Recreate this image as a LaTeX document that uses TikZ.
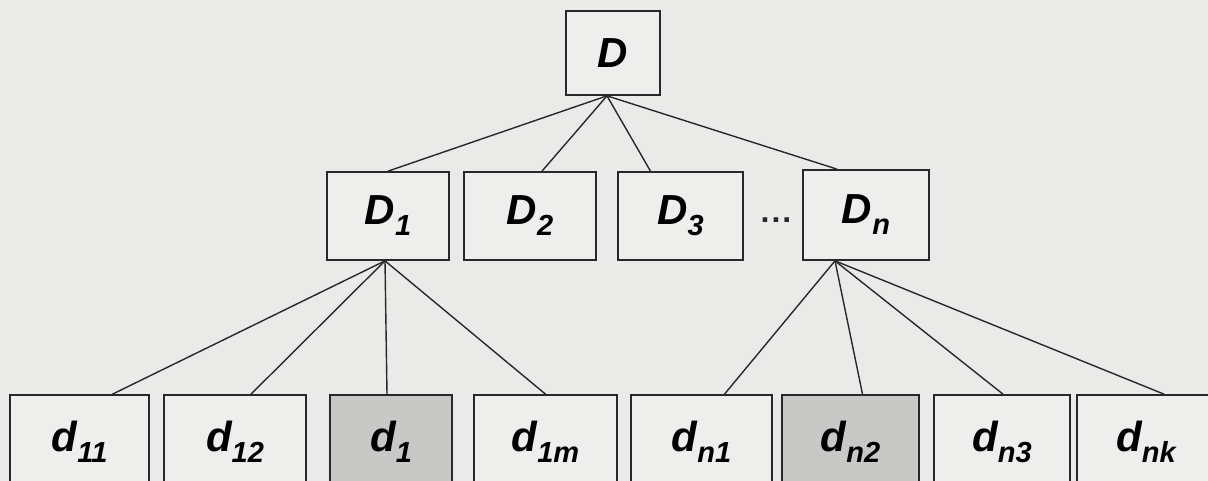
\documentclass[tikz,border=0pt]{standalone}
\usepackage{fontspec}
\setmainfont{Liberation Sans}
\definecolor{paper}{RGB}{234,234,232}
\definecolor{boxfill}{RGB}{238,238,236}
\definecolor{shade}{RGB}{200,200,198}
\definecolor{ink}{RGB}{40,40,40}
% letter with a lowered, smaller index
\newcommand{\idx}[2]{#1\raisebox{-0.26em}{\fontsize{29}{29}\selectfont #2}}

\begin{document}
\begin{tikzpicture}[x=1pt,y=-1pt,
  box/.style={draw=ink, line width=1.7pt, fill=boxfill, inner sep=0pt,
    text=black, font=\fontsize{42}{42}\selectfont\bfseries\itshape},
  marked/.style={box, fill=shade},
  link/.style={draw=ink, line width=1.4pt}]
  \fill[paper] (0,0) rectangle (1208,481);
  \useasboundingbox (0,0) rectangle (1208,481);
  \clip (0,0) rectangle (1208,481);

  % root
  \node[box, minimum width=94, minimum height=84] (D) at (613,53) {D};

  % second level
  \node[box, minimum width=122, minimum height=88] (D1) at (388,216) {\idx{D}{1}};
  \node[box, minimum width=132, minimum height=88] (D2) at (530,216) {\idx{D}{2}};
  \node[box, minimum width=125, minimum height=88] (D3) at (680.5,216) {\idx{D}{3}};
  \node[box, minimum width=126, minimum height=90] (Dn) at (866,215) {\idx{D}{n}};
  \node[text=ink, inner sep=0pt, font=\fontsize{32}{32}\selectfont\bfseries] (dots) at (776,220)
    {.\kern2pt.\kern2pt.};

  % leaves
  \node[box, minimum width=139, minimum height=94] (d11) at (79.5,442) {\idx{d}{11}};
  \node[box, minimum width=142, minimum height=94] (d12) at (235,442) {\idx{d}{12}};
  \node[marked, minimum width=122, minimum height=94] (d1) at (391,442) {\idx{d}{1}};
  \node[box, minimum width=143, minimum height=94] (d1m) at (545.5,442) {\idx{d}{1m}};
  \node[box, minimum width=141, minimum height=94] (dn1) at (701.5,442) {\idx{d}{n1}};
  \node[marked, minimum width=137, minimum height=94] (dn2) at (850.5,442) {\idx{d}{n2}};
  \node[box, minimum width=136, minimum height=94] (dn3) at (1002,442) {\idx{d}{n3}};
  \node[box, minimum width=138, minimum height=94] (dnk) at (1146,442) {\idx{d}{nk}};

  % root to second level
  \draw[link] ([xshift=-6pt]D.south) -- (D1.north);
  \draw[link] ([xshift=-6pt]D.south) -- ([xshift=12pt]D2.north);
  \draw[link] ([xshift=-6pt]D.south) -- ([xshift=-30pt]D3.north);
  \draw[link] ([xshift=-6pt]D.south) -- ([xshift=-29pt]Dn.north);

  % D1 to its leaves
  \draw[link] ([xshift=-3pt]D1.south) -- ([xshift=33pt]d11.north);
  \draw[link] ([xshift=-3pt]D1.south) -- ([xshift=16pt]d12.north);
  \draw[link] ([xshift=-3pt]D1.south) -- ([xshift=-4pt]d1.north);
  \draw[link] ([xshift=-3pt]D1.south) -- (d1m.north);

  % Dn to its leaves
  \draw[link] ([xshift=-31pt]Dn.south) -- ([xshift=23pt]dn1.north);
  \draw[link] ([xshift=-31pt]Dn.south) -- ([xshift=12pt]dn2.north);
  \draw[link] ([xshift=-31pt]Dn.south) -- ([xshift=1pt]dn3.north);
  \draw[link] ([xshift=-31pt]Dn.south) -- ([xshift=18pt]dnk.north);
\end{tikzpicture}
\end{document}
